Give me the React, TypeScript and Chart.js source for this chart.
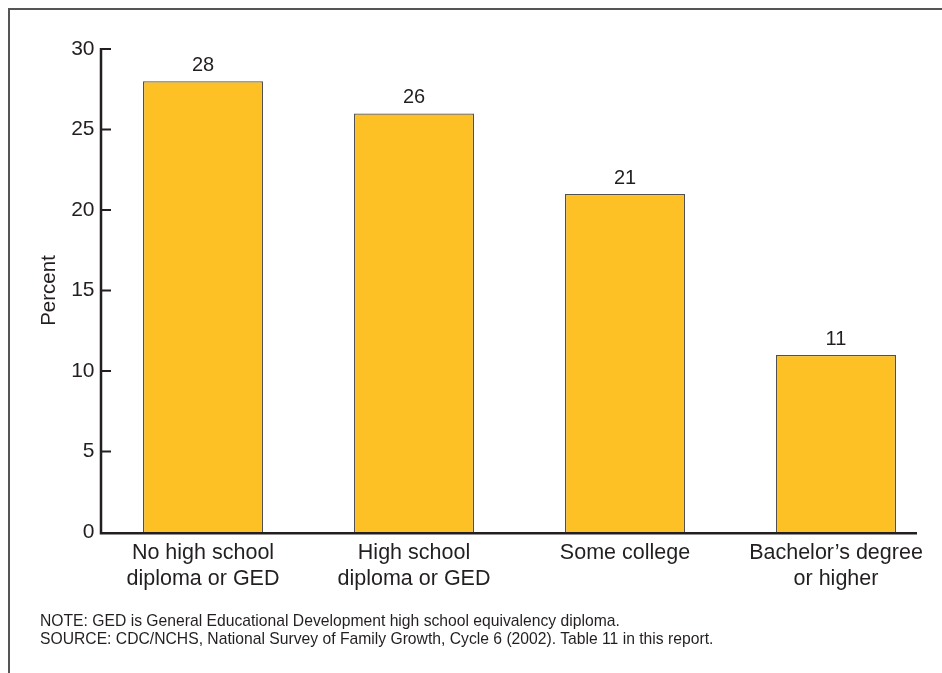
import React, { useEffect, useRef } from "react";
import { Chart, registerables } from "chart.js";

Chart.register(...registerables);

const categories: string[][] = [
  ["No high school", "diploma or GED"],
  ["High school", "diploma or GED"],
  ["Some college"],
  ["Bachelor\u2019s degree", "or higher"],
];
const percentValues: number[] = [28, 26, 21, 11];
const yTicks: number[] = [0, 5, 10, 15, 20, 25, 30];
const yAxisTitle = "Percent";
const noteLines: string[] = [
  "NOTE: GED is General Educational Development high school equivalency diploma.",
  "SOURCE: CDC/NCHS, National Survey of Family Growth, Cycle 6 (2002). Table 11 in this report.",
];

const FONT = "'Liberation Sans', Arial, Helvetica, sans-serif";
const INK = "#231f20";
const BAR_FILL = "#fdc125";
const BAR_EDGE = "#505050";
const AXIS_SHIFT = 3.5;

const overlayPlugin = {
  id: "overlay",
  afterDatasetsDraw(chart: any) {
    const { ctx, chartArea, scales } = chart;
    const y = scales.y;
    const ax = chartArea.left + AXIS_SHIFT;
    ctx.save();
    ctx.strokeStyle = INK;
    ctx.lineWidth = 2.5;
    ctx.lineCap = "butt";
    const y0 = y.getPixelForValue(0);
    const yTop = y.getPixelForValue(30);
    ctx.beginPath();
    ctx.moveTo(ax, yTop - 1);
    ctx.lineTo(ax, y0 + 1.2);
    ctx.lineTo(917, y0 + 1.2);
    ctx.stroke();
    ctx.lineWidth = 2;
    yTicks.forEach((t) => {
      if (t === 0) return;
      const py = y.getPixelForValue(t);
      ctx.beginPath();
      ctx.moveTo(ax, py);
      ctx.lineTo(ax + 10, py);
      ctx.stroke();
    });
    ctx.fillStyle = INK;
    ctx.font = `20px ${FONT}`;
    ctx.textAlign = "center";
    ctx.textBaseline = "alphabetic";
    const meta = chart.getDatasetMeta(0);
    meta.data.forEach((bar: any, i: number) => {
      ctx.fillText(String(percentValues[i]), bar.x, bar.y - 10);
    });
    ctx.save();
    ctx.translate(49, (yTop + y0) / 2);
    ctx.rotate(-Math.PI / 2);
    ctx.font = `20.5px ${FONT}`;
    ctx.textBaseline = "middle";
    ctx.fillText(yAxisTitle, 0, 0);
    ctx.restore();
    ctx.restore();
  },
};

export default function App() {
  const canvasRef = useRef<HTMLCanvasElement | null>(null);

  useEffect(() => {
    if (!canvasRef.current) return;
    const chart = new Chart(canvasRef.current, {
      type: "bar",
      data: {
        labels: categories,
        datasets: [
          {
            data: percentValues,
            backgroundColor: BAR_FILL,
            borderColor: BAR_EDGE,
            borderWidth: 1.3,
            categoryPercentage: 1,
            barPercentage: 0.569,
          },
        ],
      },
      options: {
        animation: false,
        responsive: false,
        maintainAspectRatio: false,
        layout: { padding: { top: 49, right: 0.5, bottom: 0, left: 0 } },
        plugins: {
          legend: { display: false },
          tooltip: { enabled: false },
        },
        scales: {
          x: {
            offset: true,
            grid: { display: false, drawTicks: false },
            border: { display: false },
            ticks: {
              color: INK,
              font: { family: FONT, size: 21.5 },
              padding: 8,
              maxRotation: 0,
              autoSkip: false,
            },
            afterFit(scale: any) {
              scale.height = 673 - 532;
            },
          },
          y: {
            min: 0,
            max: 30,
            grid: { display: false, drawTicks: false },
            border: { display: false },
            ticks: {
              stepSize: 5,
              color: INK,
              font: { family: FONT, size: 21 },
              padding: 3,
            },
            afterFit(scale: any) {
              scale.width = 97.5;
            },
          },
        },
      },
      plugins: [overlayPlugin],
    });
    return () => chart.destroy();
  }, []);

  return (
    <div style={{ position: "fixed", left: 0, top: 0, width: 942, height: 673, background: "#fff" }}>
      <div
        style={{
          position: "absolute",
          left: 8,
          top: 8,
          width: 942,
          height: 673,
          borderLeft: "2px solid #555",
          borderTop: "2px solid #555",
        }}
      />
      <canvas
        ref={canvasRef}
        width={942}
        height={673}
        style={{ position: "absolute", left: 0, top: 0, width: 942, height: 673 }}
      />
      <div
        style={{
          position: "absolute",
          left: 40,
          top: 612,
          fontFamily: FONT,
          fontSize: 15.7,
          lineHeight: "18px",
          color: INK,
          whiteSpace: "nowrap",
        }}
      >
        {noteLines.map((l, i) => (
          <div key={i}>{l}</div>
        ))}
      </div>
    </div>
  );
}
